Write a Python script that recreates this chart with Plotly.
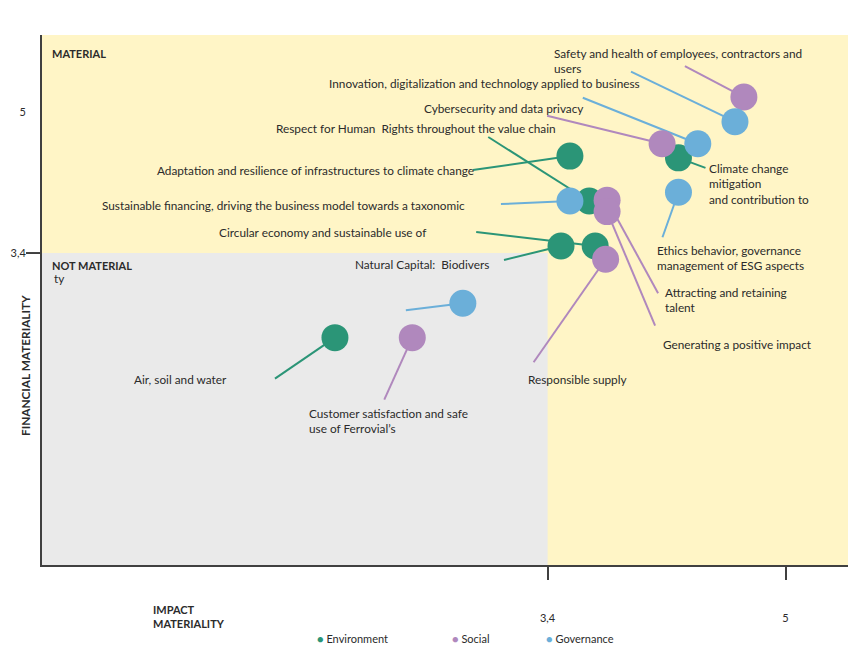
import plotly.graph_objects as go

# ---------------- data ----------------
topics = [
    "Climate change mitigation and contribution to",
    "Adaptation and resilience of infrastructures to climate change",
    "Respect for Human Rights throughout the value chain",
    "Circular economy and sustainable use of",
    "Natural Capital: Biodiversity",
    "Air, soil and water",
    "Safety and health of employees, contractors and users",
    "Cybersecurity and data privacy",
    "Attracting and retaining talent",
    "Generating a positive impact",
    "Responsible supply",
    "Customer satisfaction and safe use of Ferrovial's",
    "(unlabelled governance topic)",
    "Innovation, digitalization and technology applied to business",
    "Ethics behavior, governance management of ESG aspects",
    "Sustainable financing, driving the business model towards a taxonomic",
    "(unlabelled governance topic 2)",
]
pillar = ["Environment"] * 6 + ["Social"] * 6 + ["Governance"] * 5
impact_materiality = [4.28, 3.55, 3.68, 3.72, 3.49, 1.97,
                      4.72, 4.17, 3.80, 3.80, 3.79, 2.49,
                      4.66, 4.41, 4.28, 3.55, 2.83]
financial_materiality = [4.48, 4.50, 3.99, 3.48, 3.48, 2.44,
                         5.17, 4.64, 4.00, 3.87, 3.33, 2.44,
                         4.89, 4.64, 4.09, 3.99, 2.83]
threshold = 3.4
x_tick_vals = [3.4, 5]
x_tick_text = ["3,4", "5"]
y_tick_vals = [3.4, 5]
y_tick_text = ["3,4", "5"]
groups = ["Environment", "Social", "Governance"]

# ---------------- styles / layout positions ----------------
colors = {"Environment": "#2B9577", "Social": "#B088BD", "Governance": "#6BAFD9"}
OFF = 8                       # page body margin
W, H = 865 - OFF, 666 - OFF
ML, MR, MT, MB = 42 - OFF, 17, 35 - OFF, 101
PW, PH = W - ML - MR, H - MT - MB
X_RANGE = [0.0, 5.42]
Y_RANGE = [-0.14, 5.874]
FONT = "Lato"
FS = 11.8
TXT = "#2b2b2b"
AX = "#404040"

# leader-line tail offsets (screen pixels, dy downward) per topic
leader = [(27, 10), (-97, 14), (-101, -64), (-119, -14), (-57, 14), (-60, 41),
          (-59, -31), (-115, -28), (51, 93), (48, 114), (-72, 103), (-28, 62),
          (-104, -50), (-115, -46), (-16, 45), (-69, 3), (-57, 7)]

# text labels: (text, left px, centre-y px) in window pixels
labels = [
    ("Safety and health of employees, contractors and<br>users", 552, 61),
    ("Innovation, digitalization and technology applied to business", 327, 84),
    ("Cybersecurity and data privacy", 422, 109),
    ("Respect for Human  Rights throughout the value chain", 274, 129),
    ("Adaptation and resilience of infrastructures to climate change", 155, 170),
    ("Sustainable financing, driving the business model towards a taxonomic", 100, 205),
    ("Circular economy and sustainable use of", 217, 232),
    ("Natural Capital:  Biodivers", 353, 264),
    ("ty", 52, 278),
    ("Climate change<br>mitigation<br>and contribution to", 707, 184),
    ("Ethics behavior, governance<br>management of ESG aspects", 655, 258),
    ("Attracting and retaining<br>talent", 663, 300),
    ("Generating a positive impact", 661, 344),
    ("Responsible supply", 526, 379),
    ("Air, soil and water", 132, 379),
    ("Customer satisfaction and safe<br>use of Ferrovial\u2019s", 307, 421),
]


def px(xp):
    return (xp - OFF - ML) / PW


def py(yp):
    return (OFF + MT + PH - yp) / PH


fig = go.Figure()

shapes = [
    dict(type="rect", xref="x", yref="y", x0=X_RANGE[0], x1=threshold,
         y0=Y_RANGE[0], y1=threshold, fillcolor="#EAEAEA", line=dict(width=0),
         layer="below"),
]
for i, (dx, dy) in enumerate(leader):
    shapes.append(dict(
        type="line", xref="x", yref="y", xsizemode="pixel", ysizemode="pixel",
        xanchor=impact_materiality[i], yanchor=financial_materiality[i],
        x0=0, y0=0, x1=dx, y1=-dy,
        line=dict(color=colors[pillar[i]], width=2), layer="below"))
# y tick mark at 3,4
shapes.append(dict(type="line", xref="paper", yref="y", x0=px(26), x1=0,
                   y0=threshold, y1=threshold, line=dict(color=AX, width=2)))

for g in groups:
    idx = [i for i, p in enumerate(pillar) if p == g]
    fig.add_trace(go.Scatter(
        x=[impact_materiality[i] for i in idx],
        y=[financial_materiality[i] for i in idx],
        text=[topics[i] for i in idx],
        mode="markers", name=g,
        marker=dict(size=27, color=colors[g], line=dict(width=0), opacity=1),
        hovertemplate="%{text}<extra>" + g + "</extra>",
        cliponaxis=False,
    ))

annotations = []
for text, xl, yc in labels:
    annotations.append(dict(text=text, x=px(xl), y=py(yc), xref="paper", yref="paper",
                            xanchor="left", yanchor="middle", align="left",
                            showarrow=False, font=dict(size=FS, color=TXT)))
annotations += [
    dict(text="<b>MATERIAL</b>", x=px(50), y=py(53), xref="paper", yref="paper",
         xanchor="left", yanchor="middle", showarrow=False,
         font=dict(size=11, color=TXT)),
    dict(text="<b>NOT MATERIAL</b>", x=px(50), y=py(265), xref="paper", yref="paper",
         xanchor="left", yanchor="middle", showarrow=False,
         font=dict(size=11, color=TXT)),
    dict(text="<b>FINANCIAL MATERIALITY</b>", x=px(25), y=py(366), xref="paper",
         yref="paper", xanchor="center", yanchor="middle", textangle=-90,
         showarrow=False, font=dict(size=11.8, color=TXT)),
    dict(text="<b>IMPACT<br>MATERIALITY</b>", x=px(151), y=py(616), xref="paper",
         yref="paper", xanchor="left", yanchor="middle", align="left",
         showarrow=False, font=dict(size=11, color=TXT)),
]
legend_pos = {"Environment": 315, "Social": 450, "Governance": 544}
for g in groups:
    annotations.append(dict(
        text=f"<span style='color:{colors[g]}'>\u25CF</span> {g}",
        x=px(legend_pos[g]), y=py(638), xref="paper", yref="paper",
        xanchor="left", yanchor="middle", showarrow=False,
        font=dict(size=11, color=TXT)))

fig.update_layout(
    width=W, height=H,
    margin=dict(l=ML, r=MR, t=MT, b=MB, pad=0, autoexpand=False),
    paper_bgcolor="white", plot_bgcolor="#FFF5C6",
    font=dict(family=FONT, size=FS, color=TXT),
    showlegend=False,
    shapes=shapes, annotations=annotations,
    xaxis=dict(range=X_RANGE, showgrid=False, zeroline=False, showline=True,
               automargin=False,
               linecolor=AX, linewidth=2, tickvals=x_tick_vals, ticktext=x_tick_text,
               ticks="outside", ticklen=13, tickwidth=2, tickcolor=AX,
               ticklabelstandoff=29, tickfont=dict(size=11, color=TXT)),
    yaxis=dict(range=Y_RANGE, showgrid=False, zeroline=False, showline=True,
               automargin=False,
               linecolor=AX, linewidth=2, tickvals=y_tick_vals, ticktext=y_tick_text,
               ticks="", ticklabelstandoff=12, tickfont=dict(size=11, color=TXT)),
)

fig.write_html("out.html")
